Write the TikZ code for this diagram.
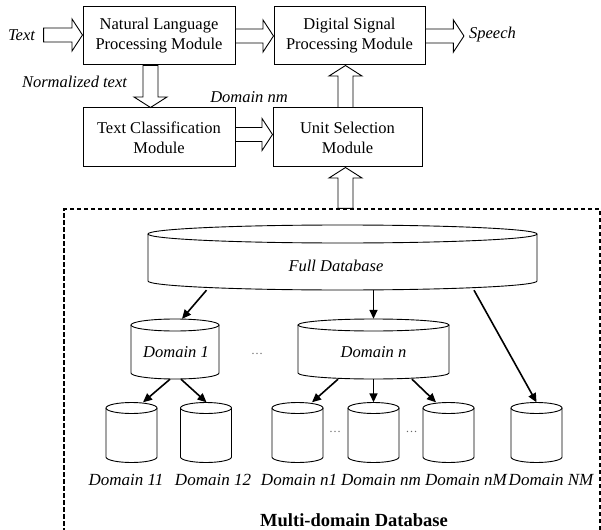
\documentclass[tikz,border=0pt]{standalone}
\usepackage{fontspec}
\setmainfont{LiberationSerif}[Extension=.ttf, UprightFont=*-Regular, BoldFont=*-Bold, ItalicFont=*-Italic, BoldItalicFont=*-BoldItalic]
\usetikzlibrary{calc,arrows.meta}
\tikzset{
  box/.style={draw, line width=1pt, inner sep=0pt, align=center, font=\fontsize{16.5}{20}\selectfont},
  blk/.style={draw, line width=0.9pt, fill=white, line join=miter},
  lbl/.style={inner sep=0pt, font=\fontsize{16.5}{20}\selectfont\itshape},
  cyllbl/.style={inner sep=0pt, font=\fontsize{17}{20}\selectfont\itshape},
  cylline/.style={draw, line width=0.9pt},
  dbarrow/.style={line width=1.6pt, -{Triangle[length=9pt,width=8pt]}},
  dotsstyle/.style={inner sep=0pt, text=black!60, font=\fontsize{12}{14}\selectfont},
  dbframe/.style={draw, line width=1.2pt, dash pattern=on 4.5pt off 2.5pt, inner sep=0pt},
}
% horizontal hollow block arrow, from #1 to #2 (rightwards)
\newcommand\harrowR[2]{\path[blk] let \p1=(#1), \p2=(#2) in
  (\x1,\y1+7pt) -- (\x2-10.5pt,\y1+7pt) -- (\x2-10.5pt,\y1+16pt) -- (\x2,\y1)
  -- (\x2-10.5pt,\y1-16pt) -- (\x2-10.5pt,\y1-7pt) -- (\x1,\y1-7pt) -- cycle;}
% vertical hollow block arrow, downwards
\newcommand\varrowD[2]{\path[blk] let \p1=(#1), \p2=(#2) in
  (\x1-7.5pt,\y1) -- (\x1-7.5pt,\y2+10.5pt) -- (\x1-16.5pt,\y2+10.5pt) -- (\x1,\y2)
  -- (\x1+16.5pt,\y2+10.5pt) -- (\x1+7.5pt,\y2+10.5pt) -- (\x1+7.5pt,\y1) -- cycle;}
% vertical hollow block arrow, upwards
\newcommand\varrowU[2]{\path[blk] let \p1=(#1), \p2=(#2) in
  (\x1-7.5pt,\y1) -- (\x1-7.5pt,\y2-10.5pt) -- (\x1-16.5pt,\y2-10.5pt) -- (\x1,\y2)
  -- (\x1+16.5pt,\y2-10.5pt) -- (\x1+7.5pt,\y2-10.5pt) -- (\x1+7.5pt,\y1) -- cycle;}
% database cylinder: name, cx, y(top ellipse centre), y(bottom ellipse centre), rx, ry
\newcommand\dbcyl[6]{%
  \draw[cylline] (#2-#5,-#3) -- (#2-#5,-#4) arc[start angle=180,end angle=360,x radius=#5pt,y radius=#6pt] -- (#2+#5,-#3);
  \draw[cylline] (#2,-#3) ellipse[x radius=#5pt,y radius=#6pt];
  \node[inner sep=0pt, minimum width={2*#5*1pt}, minimum height={(#4-#3+2*#6)*1pt}] (#1) at (#2,{-(#3+#4)/2}) {};}
\begin{document}
\begin{tikzpicture}[x=1pt,y=1pt]
\useasboundingbox (0,0) rectangle (601,-529);
\clip (0,0) rectangle (601,-529);

% modules
\node[box, minimum width=152pt, minimum height=58pt] (nlp) at (159,-36) {Natural Language\\Processing Module};
\node[box, minimum width=151pt, minimum height=58pt] (dsp) at (349.5,-36) {Digital Signal\\Processing Module};
\node[box, minimum width=152pt, minimum height=59pt] (tc) at (159,-137.5) {Text Classification\\Module};
\node[box, minimum width=149pt, minimum height=59pt] (us) at (347.5,-137.5) {Unit Selection\\Module};

% labels
\node[lbl] (txt) at (21.5,-35) {Text};
\node[lbl] (spch) at (492.5,-35) {Speech};
\node[lbl] (norm) at (74.5,-82) {Normalized text};
\node[lbl] (dnmlbl) at (249,-97) {Domain nm};

% block arrows
\coordinate (txtout) at ([xshift=8.5pt]txt.east);
\harrowR{txtout}{nlp.west}
\harrowR{nlp.east}{dsp.west}
\coordinate (spin) at ([xshift=-5pt]spch.west);
\harrowR{dsp.east}{spin}
\coordinate (nlpout) at ([xshift=-8.5pt]nlp.south);
\coordinate (tcin) at ([xshift=-8.5pt]tc.north);
\varrowD{nlpout}{tcin}
\coordinate (tcout) at ([yshift=3pt]tc.east);
\coordinate (usin) at (us.west |- tcout);
\harrowR{tcout}{usin}
\coordinate (usout) at ([xshift=-2pt]us.north);
\coordinate (dspin) at (usout |- dsp.south);
\varrowU{usout}{dspin}

% multi-domain database frame
\node[dbframe, minimum width=536pt, minimum height=331pt] (db) at (332,-374.5) {};
\coordinate (usbot) at ([xshift=-2pt]us.south);
\coordinate (dbtop) at (usbot |- db.north);
\varrowU{dbtop}{usbot}

% cylinders
\dbcyl{full}{342.5}{234}{281}{194.5}{9}
\node[lbl] (fulllbl) at (336,-265.5) {Full Database};
\dbcyl{d1}{175}{325}{373}{44}{6}
\node[lbl] (d1lbl) at (176,-352) {Domain 1};
\dbcyl{dn}{373.5}{325}{373}{75.5}{6}
\node[lbl] (dnlbl) at (373.5,-352) {Domain n};
\node[dotsstyle] (dots1) at (257,-353.5) {…};

\dbcyl{d11}{131.5}{408}{457}{25.5}{5.5}
\dbcyl{d12}{206}{408}{457}{25.5}{5.5}
\dbcyl{dn1}{297.5}{408}{457}{25.5}{5.5}
\dbcyl{dnm}{373.5}{408}{457}{25.5}{5.5}
\dbcyl{dnM}{448.5}{408}{457}{25.5}{5.5}
\dbcyl{dNM}{536.5}{408}{457}{25.5}{5.5}
\node[dotsstyle] (dots2) at (335,-432) {…};
\node[dotsstyle] (dots3) at (411.5,-432) {…};

\node[cyllbl] (l11) at (126,-479.5) {Domain 11};
\node[cyllbl] (l12) at (213,-479.5) {Domain 12};
\node[cyllbl] (ln1) at (299,-479.5) {Domain n1};
\node[cyllbl] (lnm) at (381,-479.5) {Domain nm};
\node[cyllbl] (lnM) at (466,-479.5) {Domain nM};
\node[cyllbl] (lNM) at (551,-479.5) {Domain NM};

\node[inner sep=0pt, font=\fontsize{18.5}{22}\selectfont\bfseries] (mdb) at (354,-520) {Multi-domain Database};

% database arrows
\draw[dbarrow] ([xshift=-136pt]full.south) -- ([xshift=7pt]d1.north);
\draw[dbarrow] ([xshift=31pt]full.south) -- (dn.north);
\draw[dbarrow] ([xshift=131.5pt]full.south) -- (dNM.north);
\draw[dbarrow] ([xshift=-5pt]d1.south) -- ([xshift=11.5pt]d11.north);
\draw[dbarrow] ([xshift=6pt]d1.south) -- ([xshift=0.5pt]d12.north);
\draw[dbarrow] ([xshift=-35.5pt]dn.south) -- ([xshift=14.5pt]dn1.north);
\draw[dbarrow] (dn.south) -- (dnm.north);
\draw[dbarrow] ([xshift=38.5pt]dn.south) -- ([xshift=-12.5pt]dnM.north);
\end{tikzpicture}
\end{document}
